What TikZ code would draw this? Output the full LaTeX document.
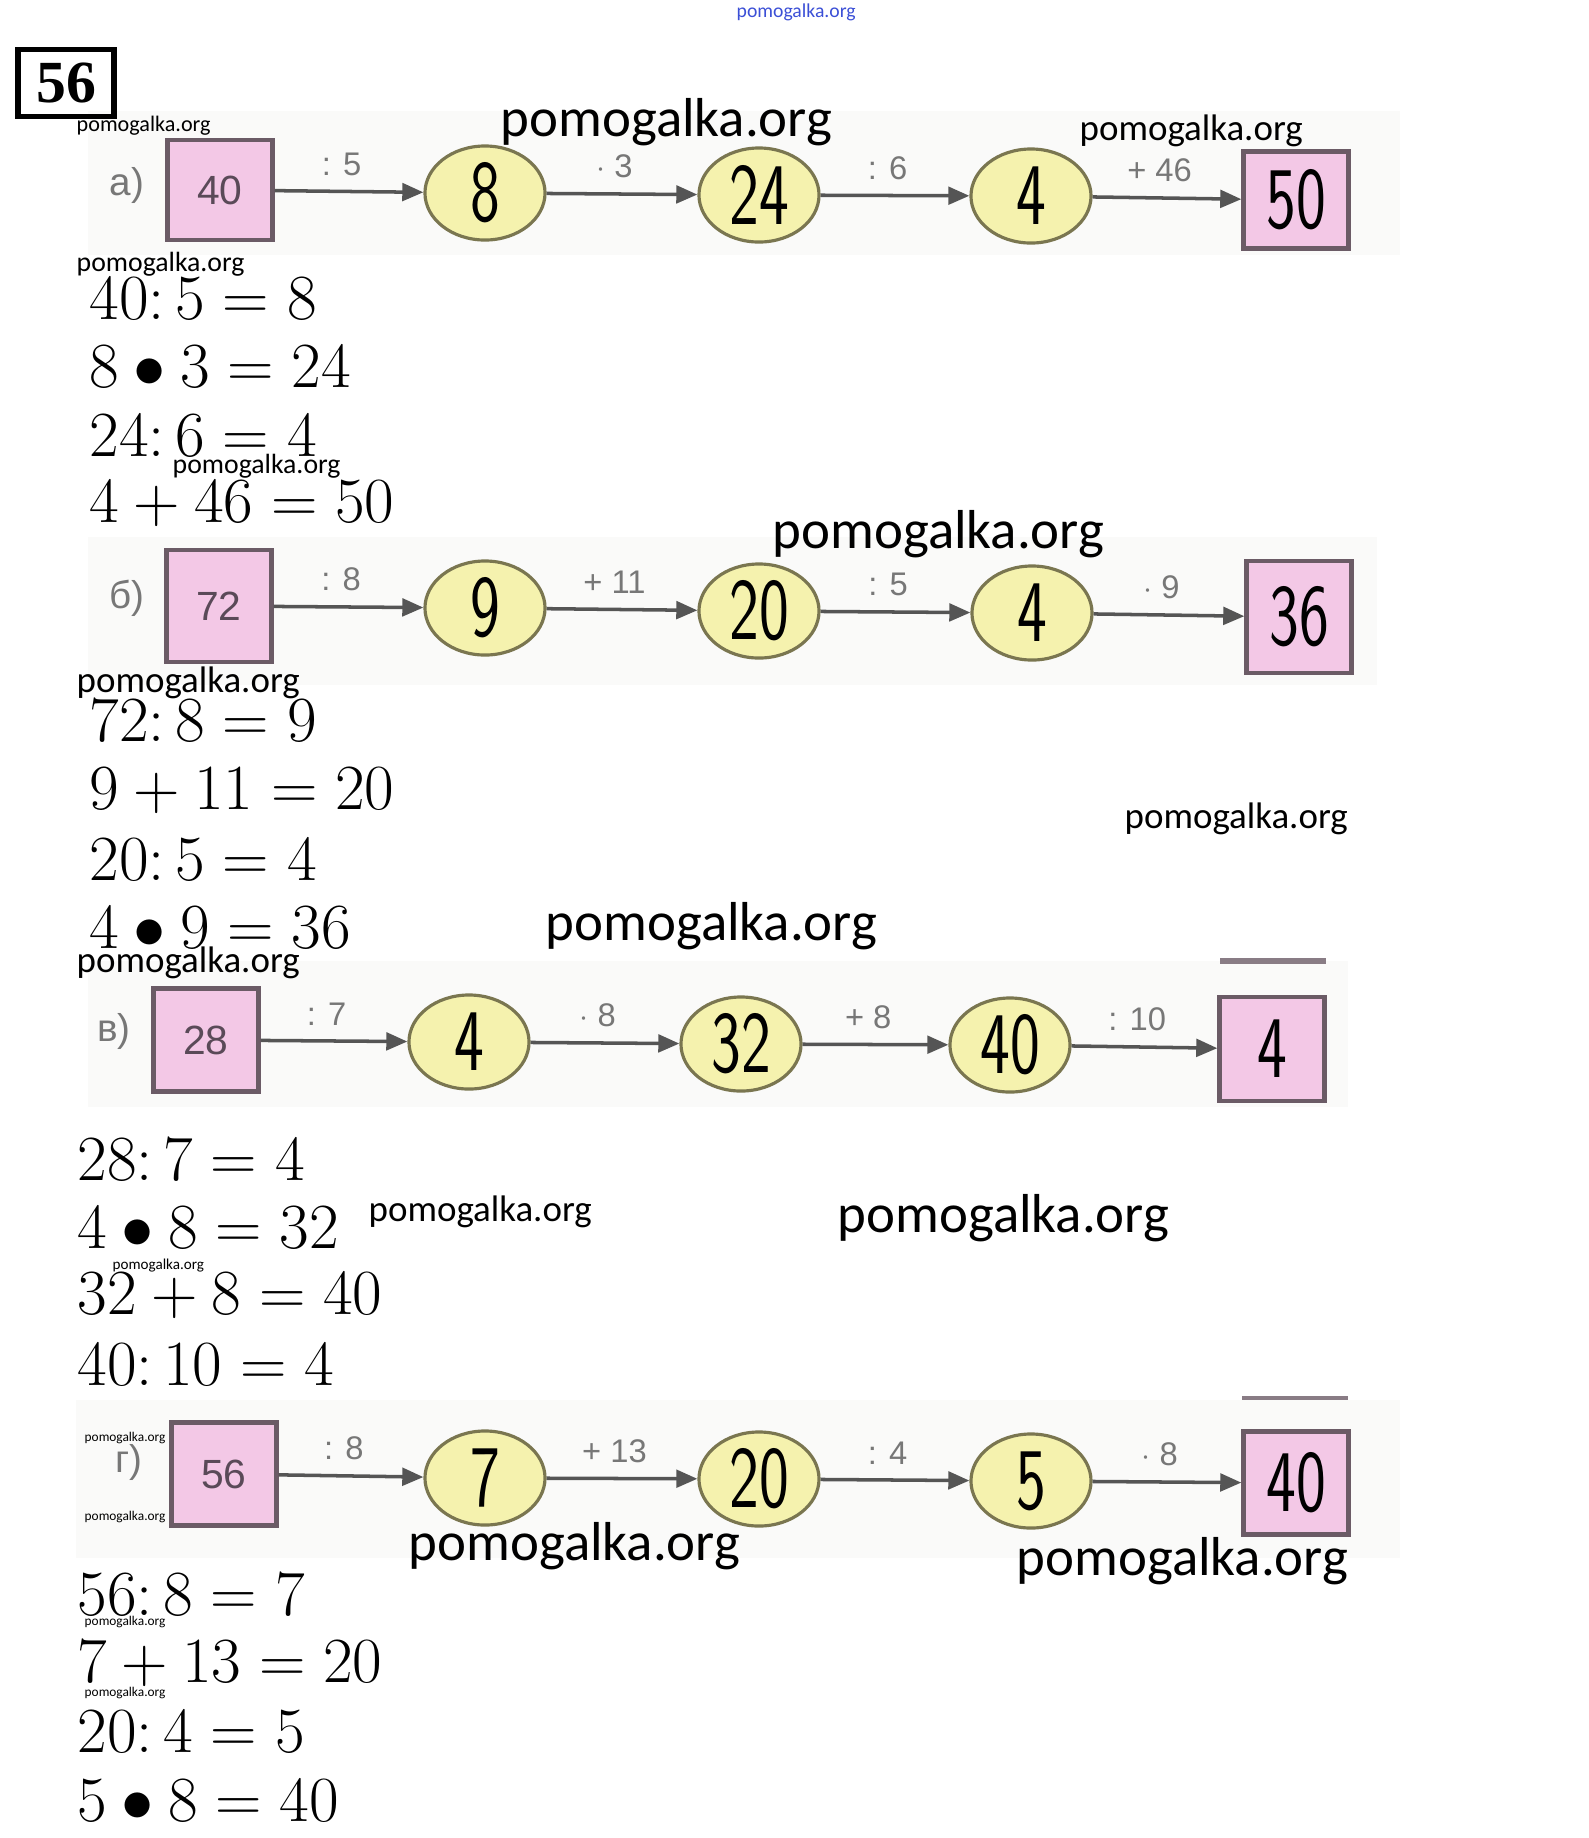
\documentclass[tikz,border=0pt]{standalone}
\usepackage{fontspec}
\usepackage{graphicx}
\usetikzlibrary{shapes.geometric,arrows.meta}
\newfontfamily\wmfont{Carlito}
\newfontfamily\bookfont{Liberation Sans}
\newfontfamily\headfont{Liberation Serif}
\definecolor{sqfill}{HTML}{F3C8E6}
\definecolor{sqline}{HTML}{6B5B66}
\definecolor{sqtext}{HTML}{5A4A58}
\definecolor{ovfill}{HTML}{F5F2AE}
\definecolor{ovline}{HTML}{7A7650}
\definecolor{opgray}{HTML}{777777}
\definecolor{arrgray}{HTML}{555555}
\definecolor{band}{HTML}{FAFAF9}
\definecolor{wmblue}{HTML}{3B4FD6}
\newcommand{\hw}[1]{\scalebox{0.72}[1]{\sffamily #1}}
\newcommand{\eqn}[1]{\scalebox{1.06}{$#1$}}

\tikzset{every node/.style={inner sep=0pt}}

\begin{document}
\begin{tikzpicture}[x=0.01cm,y=-0.01cm,
  sq/.style={draw=sqline,fill=sqfill,line width=1.2pt,minimum width=1.05cm,minimum height=1cm,font=\bookfont\fontsize{11.6}{12}\selectfont,text=sqtext},
  ov/.style={ellipse,draw=ovline,fill=ovfill,line width=0.9pt,minimum width=1.2cm,minimum height=0.94cm,font=\fontsize{25}{26}\selectfont},
  op/.style={font=\bookfont\fontsize{9.3}{10}\selectfont,text=opgray,above=4pt,pos=0.45},
  arr/.style={draw=arrgray,line width=1pt,-{Triangle[length=6pt,width=5pt]}},
  eq/.style={anchor=west,font=\fontsize{17.28}{19}\selectfont},
  lt/.style={font=\bookfont\fontsize{11}{12}\selectfont,text=opgray},
  wmbig/.style={anchor=west,font=\wmfont\fontsize{15.6}{16}\selectfont},
  wmmid/.style={anchor=west,font=\wmfont\fontsize{10.5}{11}\selectfont},
  wmsmall/.style={anchor=west,font=\wmfont\fontsize{7.9}{8}\selectfont},
  wmtiny/.style={anchor=west,font=\wmfont\fontsize{3.8}{4}\selectfont},
  bar/.style={draw=sqline!80,line width=1.6pt}]
\useasboundingbox (0,0) rectangle (1589,1838);

% backgrounds of the scanned strips
\fill[band] (88,111) rectangle (1400,255);
\fill[band] (88,537) rectangle (1377,685);
\fill[band] (88,961) rectangle (1348,1107);
\fill[band] (76,1400) rectangle (1400,1558);

\node[draw,line width=1.6pt,minimum width=0.96cm,minimum height=0.67cm,font=\headfont\bfseries\fontsize{17}{18}\selectfont] (num) at (66,83) {56};

% a)
\node[lt] (la) at (127,185) {а)};
\node[sq] (a0) at (220,190) {40};
\node[ov] (a1) at (485,193) {\hw{8}};
\node[ov] (a2) at (759,195) {\hw{24}};
\node[ov] (a3) at (1031,196) {\hw{4}};
\node[sq,minimum height=0.97cm] (a4) at (1296,200) {\fontsize{25}{26}\selectfont\color{black}\hw{50}};
\draw[arr] (a0) -- node[op]{: 5} (a1);
\draw[arr] (a1) -- node[op]{$\cdot$ 3} (a2);
\draw[arr] (a2) -- node[op]{: 6} (a3);
\draw[arr] (a3) -- node[op]{+ 46} (a4);

\node[eq] (ea1) at (89,299) {\eqn{40{:}\,5 = 8}};
\node[eq] (ea2) at (89,367) {\eqn{8 \bullet 3 = 24}};
\node[eq] (ea3) at (89,436) {\eqn{24{:}\,6 = 4}};
\node[eq] (ea4) at (89,504) {\eqn{4 + 46 = 50}};

% b)
\node[lt] (lb) at (127,598) {б)};
\node[sq,minimum height=1.12cm] (b0) at (219,606) {72};
\node[ov] (b1) at (485,608) {\hw{9}};
\node[ov] (b2) at (759,611) {\hw{20}};
\node[ov] (b3) at (1032,613) {\hw{4}};
\node[sq,minimum height=1.12cm] (b4) at (1299,617) {\fontsize{25}{26}\selectfont\color{black}\hw{36}};
\draw[arr] (b0) -- node[op]{: 8} (b1);
\draw[arr] (b1) -- node[op]{+ 11} (b2);
\draw[arr] (b2) -- node[op]{: 5} (b3);
\draw[arr] (b3) -- node[op]{$\cdot$ 9} (b4);

\node[eq] (eb1) at (89,721) {\eqn{72{:}\,8 = 9}};
\node[eq] (eb2) at (89,791) {\eqn{9 + 11 = 20}};
\node[eq] (eb3) at (89,860) {\eqn{20{:}\,5 = 4}};
\node[eq] (eb4) at (89,928) {\eqn{4 \bullet 9 = 36}};

% v)
\node[lt] (lv) at (114,1031) {в)};
\node[sq,minimum height=1.03cm] (v0) at (206,1040) {28};
\node[ov] (v1) at (469,1042) {\hw{4}};
\node[ov] (v2) at (741,1044) {\hw{32}};
\node[ov] (v3) at (1010,1045) {\hw{40}};
\node[sq,minimum height=1.04cm] (v4) at (1272,1049) {\fontsize{25}{26}\selectfont\color{black}\hw{4}};
\draw[arr] (v0) -- node[op]{: 7} (v1);
\draw[arr] (v1) -- node[op]{$\cdot$ 8} (v2);
\draw[arr] (v2) -- node[op]{+ 8} (v3);
\draw[arr] (v3) -- node[op]{: 10} (v4);
\draw[bar] (1220,961) -- (1326,961);

\node[eq] (ev1) at (77,1160) {\eqn{28{:}\,7 = 4}};
\node[eq] (ev2) at (77,1228) {\eqn{4 \bullet 8 = 32}};
\node[eq] (ev3) at (77,1296) {\eqn{32 + 8 = 40}};
\node[eq] (ev4) at (77,1365) {\eqn{40{:}\,10 = 4}};

% g)
\node[lt] (lg) at (129,1462) {г)};
\node[sq,minimum height=1.03cm] (g0) at (224,1474) {56};
\node[ov] (g1) at (485,1478) {\hw{7}};
\node[ov] (g2) at (759,1479) {\hw{20}};
\node[ov] (g3) at (1031,1481) {\hw{5}};
\node[sq,minimum height=1.03cm] (g4) at (1296,1483) {\fontsize{25}{26}\selectfont\color{black}\hw{40}};
\draw[arr] (g0) -- node[op]{: 8} (g1);
\draw[arr] (g1) -- node[op]{+ 13} (g2);
\draw[arr] (g2) -- node[op]{: 4} (g3);
\draw[arr] (g3) -- node[op]{$\cdot$ 8} (g4);
\draw[bar,line width=1pt] (1242,1398) -- (1348,1398);

\node[eq] (eg1) at (77,1595) {\eqn{56{:}\,8 = 7}};
\node[eq] (eg2) at (77,1664) {\eqn{7 + 13 = 20}};
\node[eq] (eg3) at (77,1732) {\eqn{20{:}\,4 = 5}};
\node[eq] (eg4) at (77,1801) {\eqn{5 \bullet 8 = 40}};

% watermarks
\node[anchor=west,font=\wmfont\fontsize{5.6}{6}\selectfont,text=wmblue] (w0) at (736,12) {pomogalka.org};
\node[wmbig] (w1) at (500,122) {pomogalka.org};
\node[wmmid] (w2) at (1079,131) {pomogalka.org};
\node[wmsmall,font=\wmfont\fontsize{6.3}{7}\selectfont] (w3) at (76,126) {pomogalka.org};
\node[wmsmall] (w4) at (76,264) {pomogalka.org};
\node[wmsmall] (w5) at (172,466) {pomogalka.org};
\node[wmbig] (w6) at (772,534) {pomogalka.org};
\node[wmmid] (w7) at (76,683) {pomogalka.org};
\node[wmmid] (w8) at (1124,819) {pomogalka.org};
\node[wmbig] (w9) at (545,926) {pomogalka.org};
\node[wmmid] (w10) at (76,963) {pomogalka.org};
\node[wmmid] (w11) at (368,1212) {pomogalka.org};
\node[wmbig] (w12) at (837,1218) {pomogalka.org};
\node[wmtiny,font=\wmfont\fontsize{4.3}{5}\selectfont] (w13) at (112,1266) {pomogalka.org};
\node[wmtiny] (w14) at (84,1438) {pomogalka.org};
\node[wmtiny] (w15) at (84,1517) {pomogalka.org};
\node[wmbig] (w16) at (408,1546) {pomogalka.org};
\node[wmbig] (w17) at (1016,1561) {pomogalka.org};
\node[wmtiny] (w18) at (84,1622) {pomogalka.org};
\node[wmtiny] (w19) at (84,1693) {pomogalka.org};
\end{tikzpicture}
\end{document}
